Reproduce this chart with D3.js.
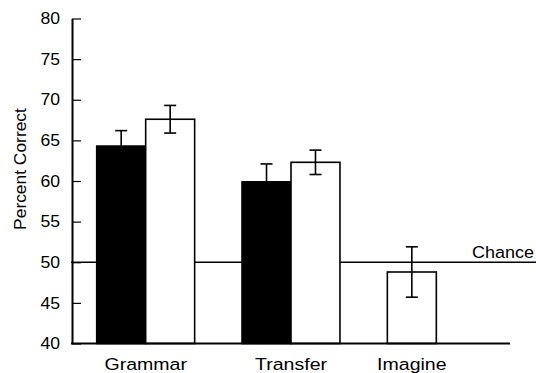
<!DOCTYPE html>
<html>
<head>
<meta charset="utf-8">
<script src="https://cdn.jsdelivr.net/npm/d3@7"></script>
<style>
  body { margin: 0; background: #fff; }
  svg { display: block; }
  text { font-family: "Liberation Sans", Arial, sans-serif; fill: #000; }
</style>
</head>
<body>
<svg id="chart" width="536" height="373"></svg>
<script>
"use strict";

// data
const categories = ["Grammar", "Transfer", "Imagine"];
const blackMeans = [64.3, 59.9, null];
const blackErrs  = [1.9, 2.2, null];
const whiteMeans = [67.6, 62.3, 48.8];
const whiteErrs  = [1.7, 1.5, 3.1];
const yTickValues = [40, 45, 50, 55, 60, 65, 70, 75, 80];
const chanceLevel = 50;

const svg = d3.select("#chart");
const margin = {top: 18.5, left: 72};
const width = 438, height = 325;

const g = svg.append("g")
  .attr("transform", "translate(" + margin.left + "," + margin.top + ")");

const y = d3.scaleLinear().domain([40, 80]).range([height, 0]);
const x0 = d3.scaleBand().domain(categories).range([0, width])
  .paddingInner(0.326).paddingOuter(0.17);
const x1 = d3.scaleBand().domain([0, 1]).range([0, x0.bandwidth()]);

// bars: each group fills slots from the left with the bars it has
const bars = [];
categories.forEach(function(cat, i) {
  let slot = 0;
  if (blackMeans[i] != null) {
    bars.push({cat: cat, slot: slot++, value: blackMeans[i], err: blackErrs[i], fill: "#000"});
  }
  if (whiteMeans[i] != null) {
    bars.push({cat: cat, slot: slot++, value: whiteMeans[i], err: whiteErrs[i], fill: "#fff"});
  }
});

// chance line under everything
g.append("line")
  .attr("x1", -1).attr("x2", 536 - margin.left)
  .attr("y1", y(chanceLevel)).attr("y2", y(chanceLevel))
  .attr("stroke", "#000").attr("stroke-width", 1.6);

g.selectAll("rect.bar").data(bars).enter().append("rect")
  .attr("class", "bar")
  .attr("x", d => x0(d.cat) + x1(d.slot))
  .attr("y", d => y(d.value))
  .attr("width", x1.bandwidth())
  .attr("height", d => y(40) - y(d.value))
  .attr("fill", d => d.fill)
  .attr("stroke", "#000").attr("stroke-width", 1.6);

const eb = g.selectAll("g.err").data(bars).enter().append("g")
  .attr("class", "err")
  .attr("transform", d => "translate(" + (x0(d.cat) + x1(d.slot) + x1.bandwidth() / 2) + ",0)")
  .attr("stroke", "#000").attr("stroke-width", 1.6);
eb.append("line").attr("y1", d => y(d.value + d.err)).attr("y2", d => y(d.value - d.err));
eb.append("line").attr("x1", -6).attr("x2", 6)
  .attr("y1", d => y(d.value + d.err)).attr("y2", d => y(d.value + d.err));
eb.append("line").attr("x1", -6).attr("x2", 6)
  .attr("y1", d => y(d.value - d.err)).attr("y2", d => y(d.value - d.err));

// y axis with inward ticks
const yAxis = g.append("g")
  .call(d3.axisLeft(y).tickValues(yTickValues).tickSizeInner(-9).tickSizeOuter(0).tickPadding(12));
yAxis.select(".domain").attr("stroke-width", 2);
yAxis.selectAll(".tick line").attr("stroke-width", 1.2);
yAxis.selectAll(".tick text")
  .attr("font-size", 16)
  .attr("font-family", "Liberation Sans, Arial, sans-serif")
  .each(function() {
    const t = d3.select(this);
    t.attr("transform", "translate(-12,0) scale(1.1,1) translate(12,0)");
  });

// x axis line
g.append("line")
  .attr("x1", -1).attr("x2", width)
  .attr("y1", height).attr("y2", height)
  .attr("stroke", "#000").attr("stroke-width", 2);

// category labels centred on the bars each group draws
categories.forEach(function(cat) {
  const gb = bars.filter(b => b.cat === cat);
  const cx = x0(cat) + x1.bandwidth() * gb.length / 2;
  g.append("text")
    .attr("transform", "translate(" + cx + "," + (height + 26.5) + ") scale(1.15,1)")
    .attr("text-anchor", "middle")
    .attr("font-size", 17)
    .text(cat);
});

g.append("text")
  .attr("transform", "translate(" + (534 - margin.left) + "," + (y(chanceLevel) - 4) + ") scale(1.09,1)")
  .attr("text-anchor", "end")
  .attr("font-size", 16.5)
  .text("Chance");

svg.append("text")
  .attr("transform", "translate(26,169) rotate(-90)")
  .attr("text-anchor", "middle")
  .attr("font-size", 17.4)
  .text("Percent Correct");
</script>
</body>
</html>
